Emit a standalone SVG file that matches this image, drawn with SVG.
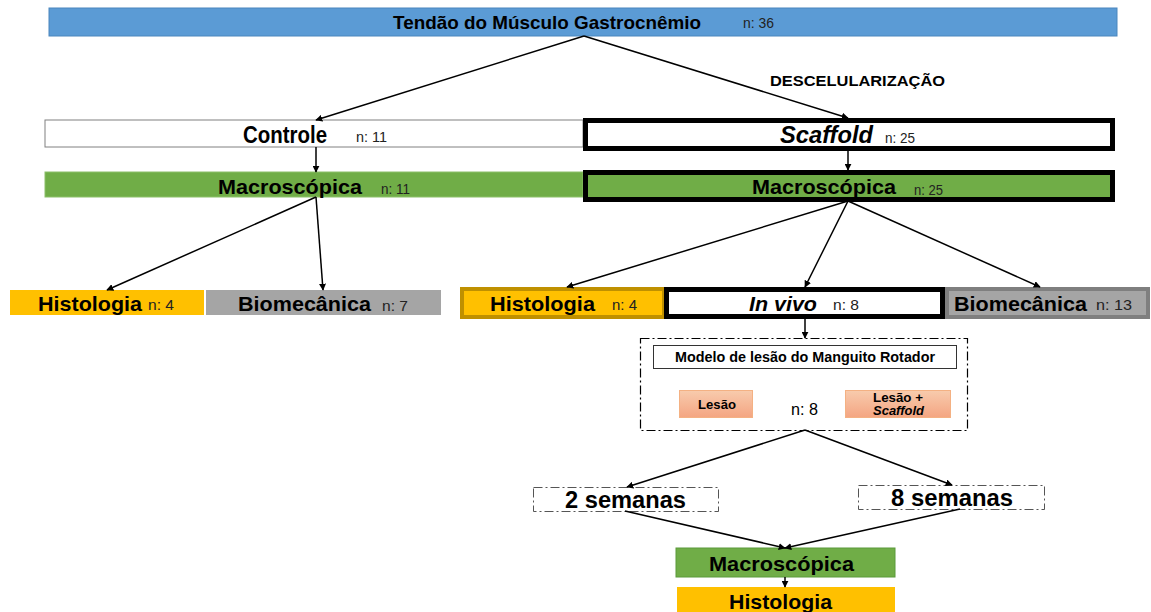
<svg xmlns="http://www.w3.org/2000/svg" width="1151" height="612" viewBox="0 0 1151 612">
<defs>
<marker id="ah" viewBox="0 0 10 10" refX="9" refY="5" markerWidth="7" markerHeight="7" orient="auto-start-reverse" markerUnits="userSpaceOnUse"><path d="M0,0 L10,5 L0,10 z" fill="#000"/></marker>
<linearGradient id="sal" x1="0" y1="0" x2="0" y2="1"><stop offset="0" stop-color="#f8cbad"/><stop offset="1" stop-color="#f4a582"/></linearGradient>
</defs>
<style>
text{font-family:"Liberation Sans",Arial,sans-serif;fill:#000}
.b{font-weight:bold}
.n{font-size:14px;fill:#222}
.big{font-size:23px;font-weight:bold}
.mid{font-size:21px;font-weight:bold}
.conn line{stroke:#000;stroke-width:1.5;fill:none}
.arr{marker-end:url(#ah)}
</style>
<rect width="1151" height="612" fill="#fff"/>
<g id="top">
<rect x="49" y="8" width="1068" height="28" fill="#5b9bd5" stroke="#4a86bd" stroke-width="1"/>
<text x="393" y="29" class="b" font-size="19" textLength="308" lengthAdjust="spacingAndGlyphs">Tendão do Músculo Gastrocnêmio</text>
<text x="743" y="28" class="n" font-size="14" textLength="31" lengthAdjust="spacingAndGlyphs">n: 36</text>
</g>
<text id="descel" x="770" y="86" class="b" font-size="15" textLength="175" lengthAdjust="spacingAndGlyphs">DESCELULARIZAÇÃO</text>
<g id="controle">
<rect x="45" y="120" width="538" height="27" fill="#fff" stroke="#808080" stroke-width="1"/>
<text x="243" y="143" class="big" textLength="84" lengthAdjust="spacingAndGlyphs">Controle</text>
<text x="356" y="142" class="n" textLength="31" lengthAdjust="spacingAndGlyphs">n: 11</text>
</g>
<g id="scaffold">
<rect x="585.5" y="120.5" width="527" height="28" fill="#fff" stroke="#000" stroke-width="5"/>
<text x="780" y="143" class="big" font-style="italic" textLength="93" lengthAdjust="spacingAndGlyphs">Scaffold</text>
<text x="885" y="143" class="n" textLength="30" lengthAdjust="spacingAndGlyphs">n: 25</text>
</g>
<g id="macro-l">
<rect x="45" y="172" width="538" height="25" fill="#70ad47" stroke="#8cc06a" stroke-width="1"/>
<text x="218" y="194" class="mid" textLength="144" lengthAdjust="spacingAndGlyphs">Macroscópica</text>
<text x="381" y="194" class="n" textLength="29" lengthAdjust="spacingAndGlyphs">n: 11</text>
</g>
<g id="macro-r">
<rect x="585.5" y="172.5" width="527" height="27" fill="#70ad47" stroke="#000" stroke-width="5"/>
<text x="752" y="194" class="mid" textLength="144" lengthAdjust="spacingAndGlyphs">Macroscópica</text>
<text x="914" y="195" class="n" textLength="29" lengthAdjust="spacingAndGlyphs">n: 25</text>
</g>
<g id="hist-l">
<rect x="10" y="290" width="194" height="25" fill="#ffc000"/>
<text x="38" y="311" class="mid" textLength="104" lengthAdjust="spacingAndGlyphs">Histologia</text>
<text x="148" y="310" class="n" font-size="16" textLength="26" lengthAdjust="spacingAndGlyphs">n: 4</text>
</g>
<g id="bio-l">
<rect x="206" y="290" width="235" height="25" fill="#a5a5a5"/>
<text x="238" y="311" class="mid" textLength="133" lengthAdjust="spacingAndGlyphs">Biomecânica</text>
<text x="382" y="311" class="n" font-size="16" textLength="26" lengthAdjust="spacingAndGlyphs">n: 7</text>
</g>
<g id="hist-r">
<rect x="462" y="289" width="202" height="28" fill="#ffc000" stroke="#bf9000" stroke-width="4"/>
<text x="490" y="311" class="mid" textLength="105" lengthAdjust="spacingAndGlyphs">Histologia</text>
<text x="612" y="310" class="n" textLength="25" lengthAdjust="spacingAndGlyphs">n: 4</text>
</g>
<g id="invivo">
<rect x="666.5" y="289.5" width="276" height="27" fill="#fff" stroke="#000" stroke-width="5"/>
<text x="749" y="311" class="mid" font-style="italic" textLength="68" lengthAdjust="spacingAndGlyphs">In vivo</text>
<text x="833" y="310" class="n" textLength="26" lengthAdjust="spacingAndGlyphs">n: 8</text>
</g>
<g id="bio-r">
<rect x="947" y="289" width="201" height="28" fill="#a5a5a5" stroke="#7f7f7f" stroke-width="4"/>
<text x="954" y="311" class="mid" textLength="133" lengthAdjust="spacingAndGlyphs">Biomecânica</text>
<text x="1096" y="310" class="n" textLength="36" lengthAdjust="spacingAndGlyphs">n: 13</text>
</g>
<g id="modelo">
<rect x="640.5" y="338.5" width="327" height="92" fill="#fff" stroke="#000" stroke-width="1.2" stroke-dasharray="9,3,2,3"/>
<rect x="653.5" y="345.5" width="303" height="23" fill="#fff" stroke="#333" stroke-width="1"/>
<text x="675" y="362" class="b" font-size="14" fill="#222" textLength="260" lengthAdjust="spacingAndGlyphs">Modelo de lesão do Manguito Rotador</text>
<rect x="679.5" y="390.5" width="73" height="27" fill="url(#sal)" stroke="#f4b183" stroke-width="1"/>
<text x="698" y="409" class="b" font-size="13" fill="#222" textLength="38" lengthAdjust="spacingAndGlyphs">Lesão</text>
<rect x="845.5" y="390.5" width="105" height="27" fill="url(#sal)" stroke="#f4b183" stroke-width="1"/>
<text x="873" y="402" class="b" font-size="13" fill="#222" textLength="50" lengthAdjust="spacingAndGlyphs">Lesão +</text>
<text x="873" y="415" class="b" font-size="13" font-style="italic" fill="#222" textLength="51" lengthAdjust="spacingAndGlyphs">Scaffold</text>
<text x="791" y="415" font-size="17" fill="#222" textLength="27" lengthAdjust="spacingAndGlyphs">n: 8</text>
</g>
<g id="sem2">
<rect x="533.5" y="487.5" width="185" height="24" fill="#fff" stroke="#555" stroke-width="1" stroke-dasharray="9,3,2,3"/>
<text x="565" y="508" class="big" textLength="121" lengthAdjust="spacingAndGlyphs">2 semanas</text>
</g>
<g id="sem8">
<rect x="858.5" y="485.5" width="186" height="24" fill="#fff" stroke="#555" stroke-width="1" stroke-dasharray="9,3,2,3"/>
<text x="891" y="506" class="big" textLength="122" lengthAdjust="spacingAndGlyphs">8 semanas</text>
</g>
<g id="macro-b">
<rect x="676" y="548" width="219" height="29" fill="#70ad47" stroke="#5a9a3a" stroke-width="1"/>
<text x="709" y="571" class="mid" textLength="145" lengthAdjust="spacingAndGlyphs">Macroscópica</text>
</g>
<g id="hist-b">
<rect x="677" y="587" width="218" height="25" fill="#ffc000"/>
<text x="729" y="609" class="mid" textLength="103" lengthAdjust="spacingAndGlyphs">Histologia</text>
</g>
<g class="conn" id="connectors">
<line x1="584" y1="36" x2="316" y2="120" class="arr"/>
<line x1="584" y1="36" x2="848" y2="118" class="arr"/>
<line x1="316" y1="147" x2="316" y2="172" class="arr"/>
<line x1="848" y1="150" x2="848" y2="170" class="arr"/>
<line x1="316" y1="197" x2="107" y2="290" class="arr"/>
<line x1="316" y1="197" x2="323" y2="290" class="arr"/>
<line x1="848" y1="201" x2="567" y2="287" class="arr"/>
<line x1="848" y1="201" x2="805" y2="287" class="arr"/>
<line x1="848" y1="201" x2="1040" y2="287" class="arr"/>
<line x1="805" y1="318" x2="805" y2="338" class="arr"/>
<line x1="805" y1="430" x2="627" y2="487" class="arr"/>
<line x1="805" y1="430" x2="952" y2="485" class="arr"/>
<line x1="625" y1="511" x2="785" y2="548" class="arr"/>
<line x1="960" y1="509" x2="785" y2="548" class="arr"/>
<line x1="785" y1="577" x2="785" y2="587" class="arr"/>
</g>
</svg>
